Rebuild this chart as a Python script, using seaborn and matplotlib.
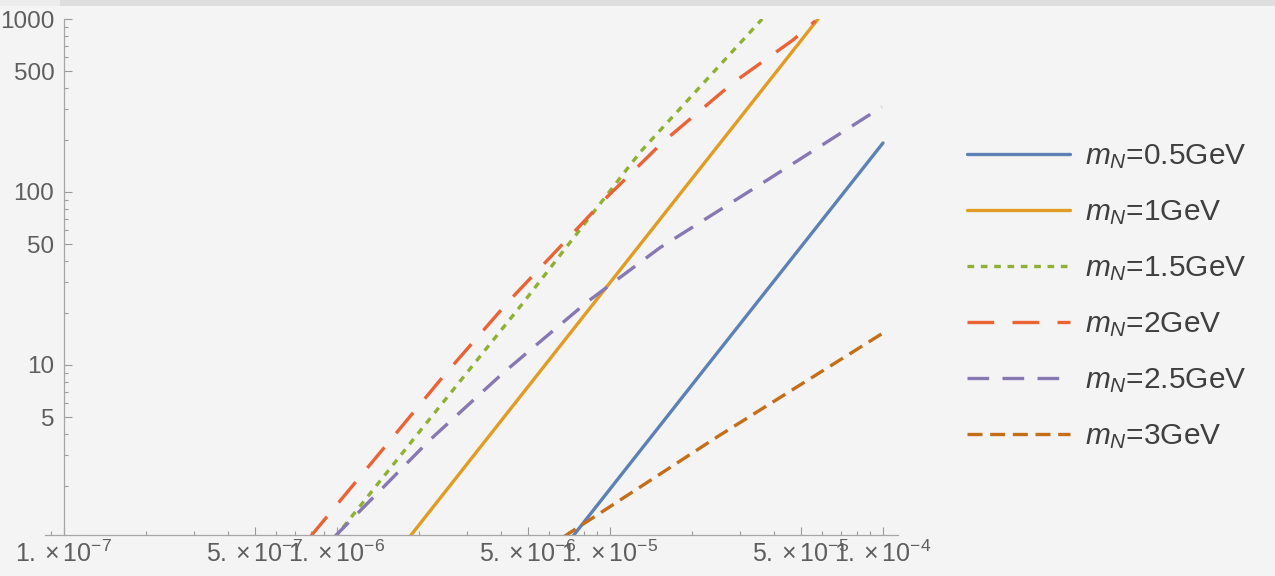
import matplotlib
matplotlib.use("Agg")
import numpy as np
import pandas as pd
import matplotlib.pyplot as plt
import seaborn as sns
from matplotlib.ticker import FixedLocator, FixedFormatter, LogLocator, NullFormatter
from matplotlib.patches import Rectangle
from matplotlib.lines import Line2D

# ---------------- data ----------------
labels = [r"$m_N$=0.5GeV", r"$m_N$=1GeV", r"$m_N$=1.5GeV",
          r"$m_N$=2GeV", r"$m_N$=2.5GeV", r"$m_N$=3GeV"]

x_05 = [7.3e-6, 2.28e-5, 1.0e-4]
y_05 = [1.02, 10.0, 192.0]

x_10 = [1.85e-6, 9.2e-6, 5.78e-5]
y_10 = [1.02, 25.3, 1000.0]

x_15 = [9.8e-7, 2.07e-6, 4.8e-6, 1.29e-5, 3.61e-5]
y_15 = [1.0, 4.38, 22.8, 170.0, 1000.0]

x_20 = [7.96e-7, 2.44e-6, 4.23e-6, 9.75e-6, 1.56e-5, 2.82e-5, 4.68e-5, 5.65e-5]
y_20 = [1.01, 8.52, 23.1, 93.5, 194.0, 427.0, 756.0, 975.0]

x_25 = [9.7e-7, 2.19e-6, 4.06e-6, 8.24e-6, 1.52e-5, 3.76e-5, 9.9e-5]
y_25 = [1.0, 3.69, 8.99, 23.1, 47.5, 117.0, 310.0]

x_30 = [6.73e-6, 2.47e-5, 1.0e-4]
y_30 = [1.01, 3.84, 15.3]

x_ticks = [1e-7, 5e-7, 1e-6, 5e-6, 1e-5, 5e-5, 1e-4]
x_ticklabels = [r"$1.\times10^{-7}$", r"$5.\times10^{-7}$", r"$1.\times10^{-6}$",
                r"$5.\times10^{-6}$", r"$1.\times10^{-5}$", r"$5.\times10^{-5}$",
                r"$1.\times10^{-4}$"]
y_ticks = [5, 10, 50, 100, 500, 1000]
y_ticklabels = ["5", "10", "50", "100", "500", "1000"]

# ---------------- styles ----------------
colors = ["#5E81B5", "#E19C24", "#8FB032", "#EB6235", "#8778B3", "#C56E1A"]
dash_list = ["", "", (2.0, 2.0), (8.0, 5.5), (6.5, 4.0), (4.5, 2.3)]
LW = 2.4

sns.set_theme(style="white")
plt.rcParams["font.family"] = ["Liberation Sans", "DejaVu Sans"]
plt.rcParams["mathtext.fontset"] = "custom"
plt.rcParams["mathtext.rm"] = "Liberation Sans"
plt.rcParams["mathtext.it"] = "Liberation Sans:italic"
plt.rcParams["mathtext.bf"] = "Liberation Sans:bold"

series_x = [x_05, x_10, x_15, x_20, x_25, x_30]
series_y = [y_05, y_10, y_15, y_20, y_25, y_30]
frames = [pd.DataFrame({"x": xs, "y": ys, "series": lab})
          for xs, ys, lab in zip(series_x, series_y, labels)]
df = pd.concat(frames, ignore_index=True)

BG = "#f4f4f4"
fig = plt.figure(figsize=(12.75, 5.76), dpi=100, facecolor=BG)
ax = fig.add_axes([45 / 1275, 41 / 576, 853 / 1275, 516 / 576])
ax.set_facecolor("none")
ax.set_xscale("log")
ax.set_yscale("log")

sns.lineplot(data=df, x="x", y="y", hue="series", style="series",
             hue_order=labels, style_order=labels,
             palette=dict(zip(labels, colors)),
             dashes=dict(zip(labels, dash_list)),
             linewidth=LW, estimator=None, sort=False,
             legend=False, ax=ax)

ax.set_xlim(8.52e-8, 1.135e-4)
ax.set_ylim(1.04, 1000)
ax.set_xlabel("")
ax.set_ylabel("")

# axes styling (Mathematica-like)
axis_col = "#a6a6a6"
for s in ["top", "right"]:
    ax.spines[s].set_visible(False)
for s in ["left", "bottom"]:
    ax.spines[s].set_color(axis_col)
    ax.spines[s].set_linewidth(0.9)
ax.spines["left"].set_position(("data", 1e-7))

ax.xaxis.set_major_locator(FixedLocator(x_ticks))
ax.xaxis.set_major_formatter(FixedFormatter(x_ticklabels))
ax.xaxis.set_minor_locator(LogLocator(base=10, subs=np.arange(2, 10), numticks=50))
ax.xaxis.set_minor_formatter(NullFormatter())
ax.yaxis.set_major_locator(FixedLocator(y_ticks))
ax.yaxis.set_major_formatter(FixedFormatter(y_ticklabels))
ax.yaxis.set_minor_locator(LogLocator(base=10, subs=np.arange(2, 10), numticks=50))
ax.yaxis.set_minor_formatter(NullFormatter())

tick_col = "#9a9a9a"
lab_col = "#5e5e5e"
ax.tick_params(axis="both", which="major", direction="in", length=6, width=0.8,
               color=tick_col, labelcolor=lab_col, labelsize=17.5)
ax.tick_params(axis="both", which="minor", direction="in", length=3, width=0.8,
               color=tick_col)
ax.tick_params(axis="x", which="major", labelsize=18)
ax.tick_params(axis="x", which="both", pad=4, bottom=True, top=False)
ax.tick_params(axis="y", which="both", pad=7, left=True, right=False)

# top grey band of the screenshot
fig.add_artist(Rectangle((0, 1 - 6 / 576), 1, 6 / 576, transform=fig.transFigure,
                         facecolor="#dedede", edgecolor="none", zorder=0))
fig.add_artist(Rectangle((0, 1 - 6 / 576), 60 / 1275, 6 / 576, transform=fig.transFigure,
                         facecolor="#ececec", edgecolor="none", zorder=0))

# legend
handles = []
for c, d in zip(colors, dash_list):
    if d == "":
        handles.append(Line2D([], [], color=c, lw=LW, linestyle="-"))
    else:
        handles.append(Line2D([], [], color=c, lw=LW, linestyle=(0, d)))
leg = fig.legend(handles, labels, loc="upper left",
                 bbox_to_anchor=(967 / 1275, 1 - 142 / 576),
                 frameon=False, fontsize=21.5, handlelength=3.45,
                 handletextpad=0.5, labelspacing=0.915,
                 borderpad=0, borderaxespad=0)
for t in leg.get_texts():
    t.set_color("#3f3f3f")

fig.savefig("out.png", dpi=100, facecolor=BG)
